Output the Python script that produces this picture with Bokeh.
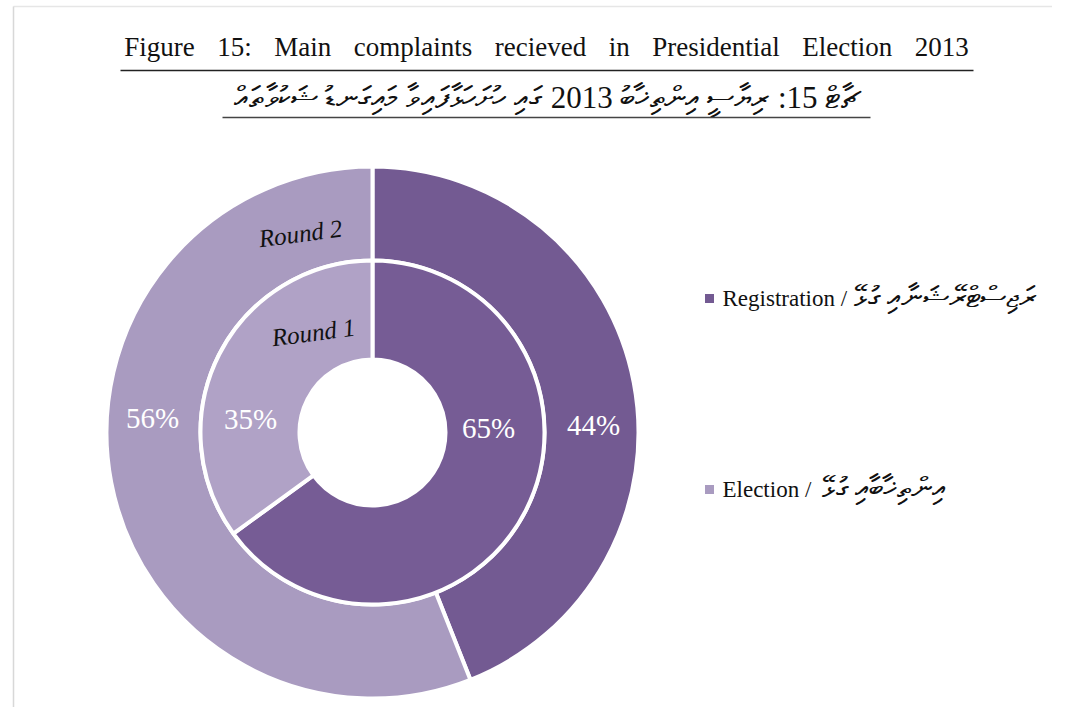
from bokeh.plotting import figure
from bokeh.models import Range1d, ColumnDataSource
from bokeh.core.properties import value
from bokeh.embed import file_html
from bokeh.resources import INLINE
import numpy as np

# ---- data ----
categories = ["Registration", "Election"]
round1_pct = [65, 35]   # inner ring
round2_pct = [44, 56]   # outer ring
ring_names = ["Round 1", "Round 2"]
dark_colors = ["#735A92", "#A99BC0"]
inner_colors = ["#765C95", "#B0A2C6"]
legend_dv = ["ރަޖިސްޓްރޭޝަނާއި ގުޅޭ", "އިންތިޚާބާއި ގުޅޭ"]
title_en = "Figure 15: Main complaints recieved in Presidential Election 2013"
title_dv = "ޗާޓް 15: ރިޔާސީ އިންތިޚާބު 2013 ގައި ހުށަހަޅާފައިވާ މައިގަނޑު ޝަކުވާތައް"

W, H = 1052, 707
SERIF = value("Liberation Serif")

def px(x):
    return x

def py(y):
    return H - y

p = figure(width=W, height=H, output_backend="svg", toolbar_location=None,
           x_range=Range1d(0, W), y_range=Range1d(0, H), min_border=0)
p.axis.visible = False
p.grid.visible = False
p.outline_line_color = None
p.background_fill_color = "white"
p.border_fill_color = "white"

# faint page frame
p.segment(x0=[px(13)], y0=[py(6)], x1=[px(1062)], y1=[py(6)],
          line_color="#E6E6E6", line_width=1.5)
p.segment(x0=[px(13)], y0=[py(6)], x1=[px(13)], y1=[py(716)],
          line_color="#D8D8D8", line_width=1.5)

cx, cy = px(372), py(432)

def ring_source(pcts, colors):
    fr = np.array(pcts, dtype=float) / sum(pcts)
    cum = np.concatenate([[0], np.cumsum(fr)])
    start = np.pi / 2 - cum[1:] * 2 * np.pi
    end = np.pi / 2 - cum[:-1] * 2 * np.pi
    return ColumnDataSource(dict(start=start, end=end, color=colors,
                                 cat=categories, pct=pcts))

outer_src = ring_source(round2_pct, dark_colors)
inner_src = ring_source(round1_pct, inner_colors)

p.annular_wedge(x=cx, y=cy, inner_radius=172, outer_radius=266,
                start_angle="start", end_angle="end", fill_color="color",
                line_color="white", line_width=4, source=outer_src)
p.annular_wedge(x=cx, y=cy, inner_radius=73, outer_radius=172,
                start_angle="start", end_angle="end", fill_color="color",
                line_color="white", line_width=4, source=inner_src)

# percentage labels
outer_pos = [(px(593), py(424)), (px(152), py(417))]
inner_pos = [(px(488), py(427)), (px(250), py(418))]
lab = dict(x=[], y=[], t=[])
for (x, y), v in zip(outer_pos, round2_pct):
    lab["x"].append(x); lab["y"].append(y); lab["t"].append(f"{v}%")
for (x, y), v in zip(inner_pos, round1_pct):
    lab["x"].append(x); lab["y"].append(y); lab["t"].append(f"{v}%")
p.text(x="x", y="y", text="t", source=ColumnDataSource(lab),
       text_font=SERIF, text_font_size="29px", text_color="white",
       text_align="center", text_baseline="middle")

# ring names
p.text(x=[px(300), px(313)], y=[py(233), py(332)], text=[ring_names[1], ring_names[0]],
       angle=0.13, text_font=SERIF, text_font_style="italic", text_font_size="25px",
       text_color="#111111", text_align="center", text_baseline="middle")

# legend
leg_y = [py(298), py(489)]
p.scatter(x=[px(709)] * 2, y=leg_y, marker="square", size=9,
          fill_color=dark_colors, line_color=None)
p.text(x=[px(722)] * 2, y=leg_y,
       text=[f"{c} /" for c in categories],
       text_font=SERIF, text_font_size="23px", text_color="#111111",
       text_align="left", text_baseline="middle")
p.text(x=[px(853), px(821)], y=[py(296), py(487)],
       text=legend_dv,
       text_font=SERIF, text_font_size="30px", text_color="#111111",
       text_align="left", text_baseline="middle")

# titles (wide, justified-looking word spacing)
title_en_spaced = title_en.replace(" ", " \u2002\u200a")
p.text(x=[px(546)], y=[py(46)], text=[title_en_spaced], text_font=SERIF,
       text_font_size="27px", text_color="#111111",
       text_align="center", text_baseline="middle")
p.segment(x0=[px(120)], y0=[py(70)], x1=[px(973)], y1=[py(70)],
          line_color="#222222", line_width=1.5)
p.text(x=[px(546)], y=[py(97)], text=[title_dv], text_font=SERIF,
       text_font_size="31px", text_color="#111111",
       text_align="center", text_baseline="middle")
p.segment(x0=[px(222)], y0=[py(117)], x1=[px(870)], y1=[py(117)],
          line_color="#444444", line_width=1.5)

open("out.html", "w").write(file_html(p, INLINE))
